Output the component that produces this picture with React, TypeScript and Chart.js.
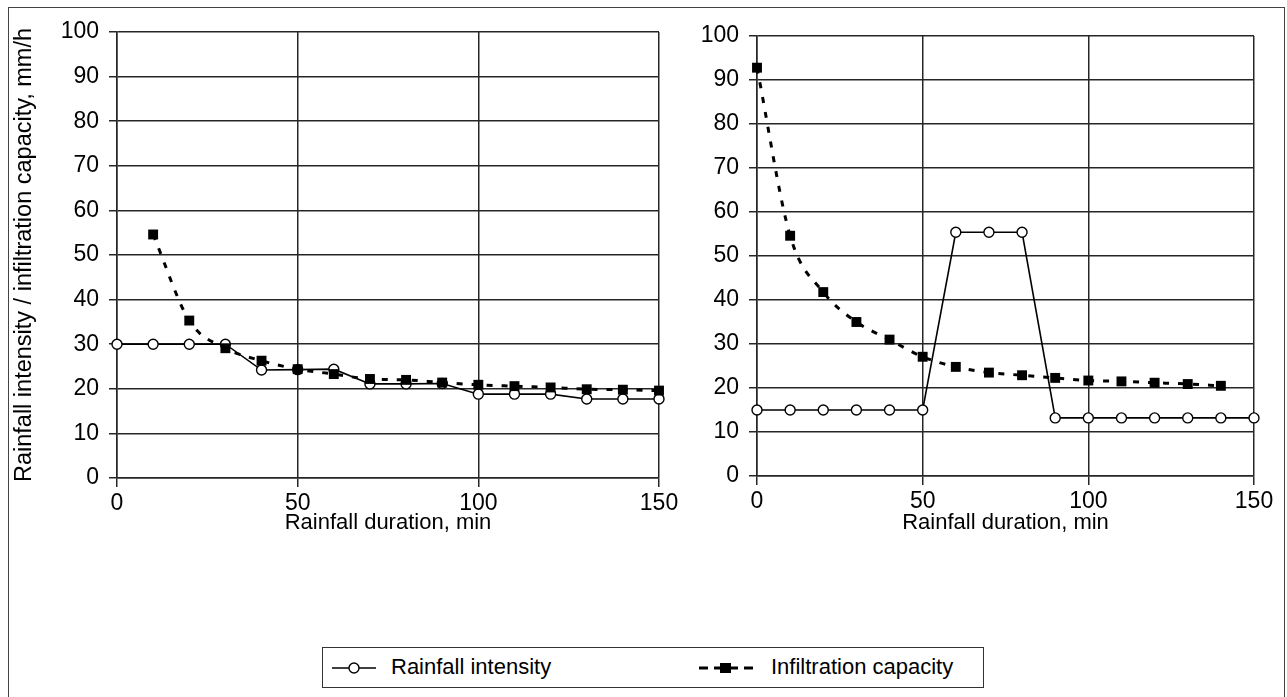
import React, { useEffect, useRef } from "react";
import { Chart, registerables } from "chart.js";

Chart.register(...registerables);

// Rainfall duration, min (shared x positions of every sample)
const durations = [0, 10, 20, 30, 40, 50, 60, 70, 80, 90, 100, 110, 120, 130, 140, 150];

// Left panel: constant-then-stepping rainfall
const leftRainfall = [30, 30, 30, 30, 24.2, 24.3, 24.4, 21.1, 21.1, 21.2, 18.8, 18.8, 18.8, 17.7, 17.7, 17.7];
const leftInfiltration = [null, 54.6, 35.3, 29.1, 26.3, 24.4, 23.3, 22.2, 22.0, 21.4, 20.9, 20.6, 20.3, 19.9, 19.8, 19.6];

// Right panel: rainfall with a mid-storm burst
const rightRainfall = [15, 15, 15, 15, 15, 15, 55.4, 55.4, 55.4, 13.2, 13.2, 13.2, 13.2, 13.2, 13.2, 13.2];
const rightInfiltration = [92.8, 54.6, 41.8, 35.0, 31.0, 27.1, 24.8, 23.5, 22.9, 22.3, 21.7, 21.5, 21.2, 20.9, 20.5, null];

const xRange = [0, 150];
const xStep = 50;
const yRange = [0, 100];
const yStep = 10;

const seriesNames = ["Rainfall intensity", "Infiltration capacity"];
const xTitle = "Rainfall duration, min";
const yTitle = "Rainfall intensity / infiltration capacity, mm/h";

const FONT_FAMILY = "'Liberation Sans', Arial, Helvetica, sans-serif";
const GRID = "#262626";
const INK = "#000000";

type PanelLayout = {
  width: number;
  height: number;
  padTop: number;
  padRight: number;
  yAxisWidth: number;
  xAxisHeight: number;
  showYTitle: boolean;
};

function toPoints(values: (number | null)[]) {
  return durations.map((x, i) => ({ x, y: values[i] }));
}

function buildPanel(
  canvas: HTMLCanvasElement,
  rainfall: (number | null)[],
  infiltration: (number | null)[],
  lay: PanelLayout
) {
  const tickFont = { family: FONT_FAMILY, size: 23 };
  const titleFont = { family: FONT_FAMILY, size: 22 };
  const yTitleFont = { family: FONT_FAMILY, size: 23.5 };
  return new Chart(canvas, {
    type: "line",
    data: {
      datasets: [
        {
          label: seriesNames[0],
          data: toPoints(rainfall),
          borderColor: INK,
          borderWidth: 1.6,
          pointStyle: "circle",
          pointRadius: 5,
          pointBackgroundColor: "#ffffff",
          pointBorderColor: INK,
          pointBorderWidth: 1.4,
          tension: 0,
          clip: false,
          order: 1,
        },
        {
          label: seriesNames[1],
          data: toPoints(infiltration),
          borderColor: INK,
          borderWidth: 3,
          borderDash: [6, 9],
          pointStyle: "rect",
          pointRadius: 7,
          pointBackgroundColor: INK,
          pointBorderColor: INK,
          pointBorderWidth: 0,
          cubicInterpolationMode: "monotone",
          spanGaps: false,
          clip: false,
          order: 0,
        },
      ],
    },
    options: {
      animation: false,
      responsive: false,
      devicePixelRatio: 1,
      events: [],
      layout: { padding: { top: lay.padTop, right: lay.padRight, left: 0, bottom: 0 } },
      plugins: {
        legend: { display: false },
        tooltip: { enabled: false },
      },
      scales: {
        x: {
          type: "linear",
          min: xRange[0],
          max: xRange[1],
          ticks: { stepSize: xStep, color: INK, font: tickFont, padding: 3, maxRotation: 0 },
          grid: { color: GRID, lineWidth: 1.5, tickLength: 9 },
          border: { color: GRID, width: 1.5 },
          title: {
            display: true,
            text: xTitle,
            color: INK,
            font: titleFont,
            padding: { top: 0, bottom: 24 },
          },
          afterFit: (s: any) => {
            s.height = lay.xAxisHeight;
          },
        },
        y: {
          type: "linear",
          min: yRange[0],
          max: yRange[1],
          ticks: { stepSize: yStep, color: INK, font: tickFont, padding: 10 },
          grid: { color: GRID, lineWidth: 1.5, tickLength: 8 },
          border: { color: GRID, width: 1.5 },
          title: {
            display: lay.showYTitle,
            text: yTitle,
            color: INK,
            font: yTitleFont,
            padding: { top: 10, bottom: 0 },
          },
          afterFit: (s: any) => {
            s.width = lay.yAxisWidth;
          },
        },
      },
    },
  } as any);
}

function Panel(props: {
  left: number;
  rainfall: (number | null)[];
  infiltration: (number | null)[];
  lay: PanelLayout;
}) {
  const ref = useRef<HTMLCanvasElement | null>(null);
  useEffect(() => {
    if (!ref.current) return;
    const chart = buildPanel(ref.current, props.rainfall, props.infiltration, props.lay);
    return () => chart.destroy();
  }, []);
  return (
    <canvas
      ref={ref}
      width={props.lay.width}
      height={props.lay.height}
      style={{
        position: "absolute",
        left: props.left,
        top: 0,
        width: props.lay.width,
        height: props.lay.height,
      }}
    />
  );
}

function LegendKey(props: { kind: "circle" | "square" }) {
  if (props.kind === "circle") {
    return (
      <svg width={44} height={14} style={{ display: "block" }}>
        <line x1={0} y1={7} x2={44} y2={7} stroke={INK} strokeWidth={1.6} />
        <circle cx={22} cy={7} r={5} fill="#fff" stroke={INK} strokeWidth={1.4} />
      </svg>
    );
  }
  return (
    <svg width={56} height={14} style={{ display: "block" }}>
      <line x1={0} y1={7} x2={56} y2={7} stroke={INK} strokeWidth={3} strokeDasharray="9 6" />
      <rect x={21} y={2} width={11} height={10} fill={INK} />
    </svg>
  );
}

export default function App() {
  const leftLayout: PanelLayout = {
    width: 700,
    height: 560,
    padTop: 32,
    padRight: 41,
    yAxisWidth: 117,
    xAxisHeight: 82,
    showYTitle: true,
  };
  const rightLayout: PanelLayout = {
    width: 587,
    height: 560,
    padTop: 36,
    padRight: 33,
    yAxisWidth: 57,
    xAxisHeight: 84,
    showYTitle: false,
  };
  const textStyle: React.CSSProperties = {
    fontFamily: FONT_FAMILY,
    fontSize: 22,
    color: INK,
    whiteSpace: "nowrap",
  };
  return (
    <div
      style={{
        position: "fixed",
        left: 0,
        top: 0,
        width: 1287,
        height: 697,
        background: "#ffffff",
        overflow: "hidden",
      }}
    >
      <div
        style={{
          position: "absolute",
          left: 8,
          top: 7,
          width: 1277,
          height: 694,
          border: "1px solid #444",
          boxSizing: "border-box",
        }}
      />
      <Panel left={0} rainfall={leftRainfall} infiltration={leftInfiltration} lay={leftLayout} />
      <Panel left={700} rainfall={rightRainfall} infiltration={rightInfiltration} lay={rightLayout} />
      <div
        style={{
          position: "absolute",
          left: 322,
          top: 647,
          width: 662,
          height: 41,
          border: "1px solid #333",
          boxSizing: "border-box",
        }}
      >
        <div style={{ position: "absolute", left: 9, top: 13 }}>
          <LegendKey kind="circle" />
        </div>
        <div style={{ ...textStyle, position: "absolute", left: 68, top: 6 }}>{seriesNames[0]}</div>
        <div style={{ position: "absolute", left: 376, top: 13 }}>
          <LegendKey kind="square" />
        </div>
        <div style={{ ...textStyle, position: "absolute", left: 448, top: 6 }}>{seriesNames[1]}</div>
      </div>
    </div>
  );
}
